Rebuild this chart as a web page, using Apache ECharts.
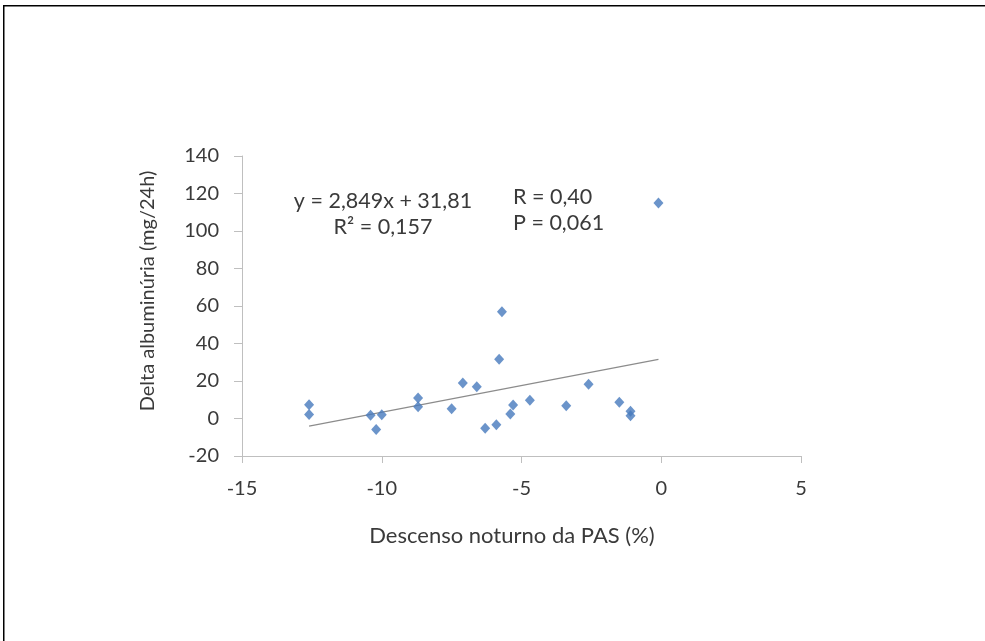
<!DOCTYPE html>
<html>
<head>
<meta charset="utf-8">
<style>
html,body{margin:0;padding:0;background:#fff;}
#chart{width:985px;height:641px;}
</style>
<script src="https://cdn.jsdelivr.net/npm/echarts@6/dist/echarts.min.js"></script>
</head>
<body>
<div id="chart"></div>
<script>
// Data
const descensoPAS = [-12.6, -12.6, -10.4, -10.0, -10.2, -8.7, -8.7, -7.5, -7.1, -6.6, -6.3, -5.9, -5.8, -5.7, -5.4, -5.3, -4.7, -3.4, -2.6, -1.5, -1.1, -1.1, -0.1];
const deltaAlbuminuria = [7.4, 2.2, 1.7, 2.0, -5.9, 10.9, 6.3, 5.2, 19.0, 17.0, -5.2, -3.3, 31.6, 56.9, 2.4, 7.2, 9.8, 6.8, 18.3, 8.7, 3.9, 1.5, 114.9];
const trendSlope = 2.849;
const trendIntercept = 31.81;
const equationText = ['y = 2,849x + 31,81', 'R² = 0,157'];
const statsText = ['R = 0,40', 'P = 0,061'];
const xTitle = 'Descenso noturno da PAS (%)';
const yTitle = 'Delta albuminúria (mg/24h)';

const points = descensoPAS.map((x, i) => [x, deltaAlbuminuria[i]]);
const xMin = Math.min(...descensoPAS), xMax = Math.max(...descensoPAS);
const trend = [[xMin, trendSlope * xMin + trendIntercept], [xMax, trendSlope * xMax + trendIntercept]];

const FONT = 'Lato';
const FS = 20;
const FA = 21.5;
const FX = 22;
const TXT = '#3a3a3a';
const chart = echarts.init(document.getElementById('chart'));
chart.setOption({
  backgroundColor: '#fff',
  animation: false,
  grid: {left: 242, right: 184, top: 156, bottom: 185, containLabel: false},
  xAxis: {
    type: 'value', min: -15, max: 5, interval: 5,
    axisLine: {show: true, onZero: false, lineStyle: {color: '#BFBFBF', width: 1}},
    axisTick: {show: true, inside: false, length: 7, lineStyle: {color: '#BFBFBF'}},
    splitLine: {show: false},
    axisLabel: {color: TXT, fontFamily: FONT, fontSize: FS, margin: 23}
  },
  yAxis: {
    type: 'value', min: -20, max: 140, interval: 20,
    axisLine: {show: true, onZero: false, lineStyle: {color: '#BFBFBF', width: 1}},
    axisTick: {show: true, inside: false, length: 8, lineStyle: {color: '#BFBFBF'}},
    splitLine: {show: false},
    axisLabel: {color: TXT, fontFamily: FONT, fontSize: FS, margin: 23}
  },
  series: [
    {
      type: 'line', data: trend, symbol: 'none', silent: true,
      lineStyle: {color: '#8C8C8C', width: 1.2}, z: 1
    },
    {
      type: 'scatter', data: points, symbol: 'diamond', symbolSize: [10, 11],
      itemStyle: {color: '#4679BD'}, z: 2
    }
  ],
  graphic: [
    {type: 'rect', left: 3, top: 5, shape: {width: 985, height: 1.5}, style: {fill: '#000'}},
    {type: 'rect', left: 3, top: 5, shape: {width: 1.5, height: 640}, style: {fill: '#000'}},
    {type: 'text', x: 383, y: 201, style: {text: equationText[0], fill: TXT, font: FA + 'px ' + FONT, textAlign: 'center', textVerticalAlign: 'middle'}},
    {type: 'text', x: 383, y: 227, style: {text: equationText[1], fill: TXT, font: FA + 'px ' + FONT, textAlign: 'center', textVerticalAlign: 'middle'}},
    {type: 'text', x: 513, y: 197, style: {text: statsText[0], fill: TXT, font: FA + 'px ' + FONT, textAlign: 'left', textVerticalAlign: 'middle'}},
    {type: 'text', x: 513, y: 223, style: {text: statsText[1], fill: TXT, font: FA + 'px ' + FONT, textAlign: 'left', textVerticalAlign: 'middle'}},
    {type: 'text', x: 512, y: 536, style: {text: xTitle, fill: TXT, font: FX + 'px ' + FONT, textAlign: 'center', textVerticalAlign: 'middle'}},
    {type: 'text', x: 148, y: 291, rotation: Math.PI / 2, style: {text: yTitle, fill: TXT, font: FS + 'px ' + FONT, textAlign: 'center', textVerticalAlign: 'middle'}}
  ]
});
</script>
</body>
</html>
